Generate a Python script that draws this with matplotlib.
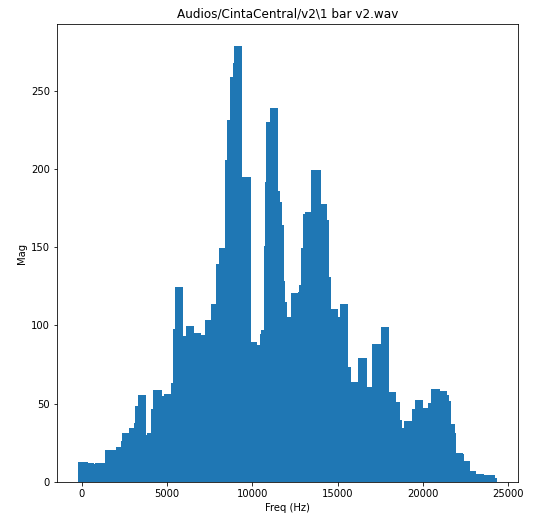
import numpy as np
import matplotlib
matplotlib.use("Agg")
import matplotlib.pyplot as plt

# left edge of each frequency step (Hz), last value closes the final bar
freq_edges = [
    -235, 353, 706, 745, 1333, 1980, 2275, 2333, 2765, 3059, 3118, 3314,
    3765, 3843, 4059, 4196, 4686, 4824, 5216, 5353, 5451, 5922, 6098, 6588,
    6980, 7235, 7588, 7882, 8020, 8412, 8510, 8706, 8863, 8941, 9412, 9902,
    9941, 10294, 10431, 10529, 10667, 10725, 10824, 11059, 11510, 11608,
    11745, 11882, 11941, 12039, 12275, 12667, 12765, 12863, 12961, 13118,
    13471, 14000, 14392, 14490, 14627, 15020, 15118, 15627, 15765, 16216,
    16706, 17000, 17529, 18020, 18412, 18667, 18765, 18902, 19353, 19549,
    20039, 20333, 20490, 21020, 21412, 21549, 21647, 21902, 21960, 22333,
    22431, 22784, 23118, 23608, 24235, 24353,
]
mag = [
    12.5, 12.2, 11.5, 12.0, 20.2, 22.5, 26.0, 31.0, 34.4, 38.0, 48.5, 55.3,
    30.0, 31.5, 46.4, 58.7, 54.8, 56.5, 63.3, 98.0, 124.5, 93.0, 99.5, 95.2,
    94.2, 103.3, 113.5, 139.0, 149.4, 206.0, 231.0, 259.0, 268.0, 278.7,
    194.7, 118.8, 89.5, 87.4, 94.4, 97.0, 151.0, 191.5, 229.8, 239.0, 186.0,
    178.8, 164.5, 128.4, 115.0, 105.5, 120.7, 121.5, 125.6, 149.7, 171.0,
    172.8, 199.4, 177.3, 167.5, 131.0, 110.8, 105.5, 113.5, 73.5, 63.6, 79.3,
    60.8, 88.4, 99.0, 57.2, 51.2, 39.5, 34.6, 39.1, 46.6, 52.7, 47.0, 50.2,
    59.1, 58.0, 55.5, 51.9, 36.8, 31.0, 18.7, 17.8, 13.6, 7.2, 5.1, 4.3, 2.8,
]

edges = np.array(freq_edges, dtype=float)

DPI = 72
fig, ax = plt.subplots(figsize=(535 / DPI, 518 / DPI), dpi=DPI)
fig.subplots_adjust(left=0.1065, right=0.968, bottom=0.0695, top=0.9537)

ax.bar(edges[:-1], mag, width=np.diff(edges), align="edge", color="#1f77b4")

ax.set_title("Audios/CintaCentral/v2\\1 bar v2.wav")
ax.set_xlabel("Freq (Hz)")
ax.set_ylabel("Mag")

fig.savefig("out.png", dpi=DPI)
